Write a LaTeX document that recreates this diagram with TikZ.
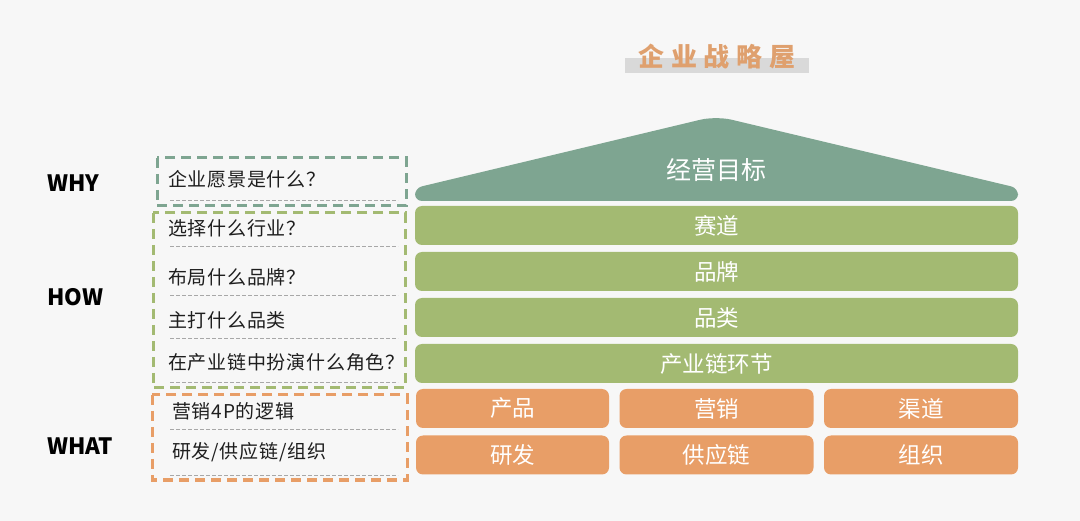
\documentclass[tikz,border=0pt]{standalone}
\usepackage{fontspec}
\setmainfont{Noto Sans CJK SC}
\newfontfamily\cjk{Noto Sans CJK SC}
\definecolor{bgc}{HTML}{F7F7F7}
\definecolor{roofc}{HTML}{7EA591}
\definecolor{barg}{HTML}{A3BA72}
\definecolor{orng}{HTML}{E89E67}
\definecolor{titlec}{HTML}{DFA06E}
\definecolor{graybar}{HTML}{D9D9D9}
\definecolor{sepgray}{HTML}{A8A8A8}
\definecolor{txt}{HTML}{1E1E1E}
\begin{document}
\begin{tikzpicture}[x=1pt,y=-1pt,
  every node/.style={inner sep=0pt, font=\cjk},
  bar/.style={fill=barg, rounded corners=7pt, minimum height=39pt, minimum width=603pt, text=white, font=\cjk\fontsize{22.5}{25}\selectfont},
  obox/.style={fill=orng, rounded corners=7pt, minimum height=39pt, minimum width=194pt, text=white, font=\cjk\fontsize{22.5}{25}\selectfont},
  q/.style={anchor=west, text=txt, font=\cjk\fontsize{19}{21}\selectfont\addfontfeatures{LetterSpace=4}},
  sep/.style={draw=sepgray, line width=0.9pt, dash pattern=on 3.5pt off 2.5pt},
  frame/.style={line width=3pt, dash pattern=on 10pt off 6pt},
  lab/.style={anchor=west, text=black, font=\cjk\bfseries\fontsize{22.5}{24}\selectfont}
]
\fill[bgc] (0,0) rectangle (1080,521);
\useasboundingbox (0,0) rectangle (1080,521);

% title
\fill[graybar] (625,58) rectangle (809,73);
\node[text=titlec, font=\cjk\bfseries\fontsize{26}{28}\selectfont\addfontfeatures{LetterSpace=26}] (title) at (717,57) {企业战略屋};

% roof
\fill[roofc, rounded corners=7pt] (716,201) -- (415,201) -- (415,188) [rounded corners=16pt] -- (716,116) [rounded corners=7pt] -- (1018,188) -- (1018,201) -- cycle;
\node[text=white, font=\cjk\fontsize{25}{28}\selectfont] (goal) at (716,170) {经营目标};

% green bars
\node[bar] (b1) at (716.5,225.5) {赛道};
\node[bar] (b2) at (716.5,271.5) {品牌};
\node[bar] (b3) at (716.5,317.5) {品类};
\node[bar] (b4) at (716.5,363.5) {产业链环节};

% orange boxes
\node[obox, minimum width=193pt] (o1) at (512.5,408.5) {产品};
\node[obox] (o2) at (716.5,408.5) {营销};
\node[obox] (o3) at (921,408.5) {渠道};
\node[obox, minimum width=193pt] (o4) at (512.5,455) {研发};
\node[obox] (o5) at (716.5,455) {供应链};
\node[obox] (o6) at (921,455) {组织};

% left frames
\draw[frame, draw=roofc] (157,158) rectangle (406,206);
\draw[frame, draw=barg] (153,213) rectangle (405,388);
\draw[frame, draw=orng] (152,395) rectangle (407,480);

% separators
\foreach \yy in {200,246,295,338,382,429,475}
  \draw[sep] (170,\yy) -- (398,\yy);

% questions
\node[q] (q1) at (168,179) {企业愿景是什么？};
\node[q] (q2) at (168,228) {选择什么行业？};
\node[q] (q3) at (168,277) {布局什么品牌？};
\node[q] (q4) at (168,320) {主打什么品类};
\node[q] (q5) at (168,362) {在产业链中扮演什么角色？};
\node[q] (q6) at (172,411) {营销4P的逻辑};
\node[q] (q7) at (172,452) {研发/供应链/组织};

% labels
\node[lab] (why) at (47,183) {WHY};
\node[lab] (how) at (47,297) {HOW};
\node[lab] (what) at (47,446) {WHAT};
\end{tikzpicture}
\end{document}
